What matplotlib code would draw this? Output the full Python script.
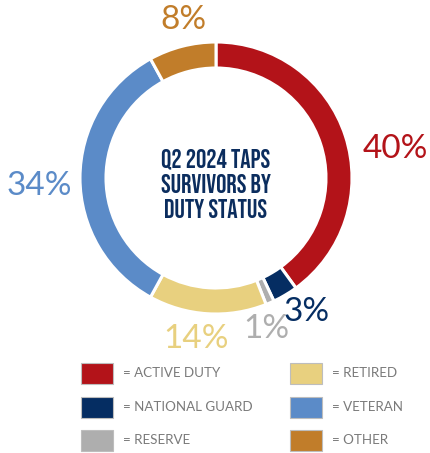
import matplotlib
matplotlib.use("Agg")
import matplotlib.pyplot as plt
from matplotlib.patches import Rectangle

categories = ["ACTIVE DUTY", "NATIONAL GUARD", "RESERVE", "RETIRED", "VETERAN", "OTHER"]
values = [40, 3, 1, 14, 34, 8]
colors = ["#B31319", "#052D62", "#AEAEAE", "#E8D07F", "#5B8BC8", "#C17D2A"]
pct_labels = ["40%", "3%", "1%", "14%", "34%", "8%"]
title = "Q2 2024 TAPS\nSURVIVORS BY\nDUTY STATUS"

W, H = 430, 453
fig = plt.figure(figsize=(W / 100, H / 100), dpi=100)
ax = fig.add_axes([0, 0, 1, 1])

def py(y):
    return H - y

cx, cy, R = 216, py(178), 136
ax.pie(values, colors=colors, startangle=90, counterclock=False,
       center=(cx, cy), radius=R, frame=True,
       wedgeprops=dict(width=26, edgecolor="white", linewidth=2.2))
ax.set_xlim(0, W)
ax.set_ylim(0, H)
ax.set_aspect("equal")
ax.axis("off")

ax.text(cx, py(183), title, ha="center", va="center", fontsize=18.5,
        fontfamily=["Bebas Neue", "DejaVu Sans"],
        color="#0B2D5E", linespacing=1.3)

label_pos = [(395, 149), (307, 312), (266, 329), (196, 339), (39, 186), (183, 20)]
for lab, (x, y), c in zip(pct_labels, label_pos, colors):
    ax.text(x, py(y), lab, ha="center", va="center", fontsize=24,
            fontfamily="Lato", fontweight="normal", color=c)

sw_x = [81, 290]
sw_y = [373, 407, 440]
for i, (cat, c) in enumerate(zip(categories, colors)):
    col, row = (0, i) if i < 3 else (1, i - 3)
    x0 = sw_x[col]
    yc = sw_y[row]
    ax.add_patch(Rectangle((x0, py(yc) - 10.5), 32, 21, facecolor=c,
                           edgecolor="#BDBDBD", linewidth=0.8))
    ax.text(x0 + 42, py(yc), "= " + cat, ha="left", va="center", fontsize=9.6,
            fontfamily="Lato", color="#7A7A7A")

fig.savefig("out.png", dpi=100)
